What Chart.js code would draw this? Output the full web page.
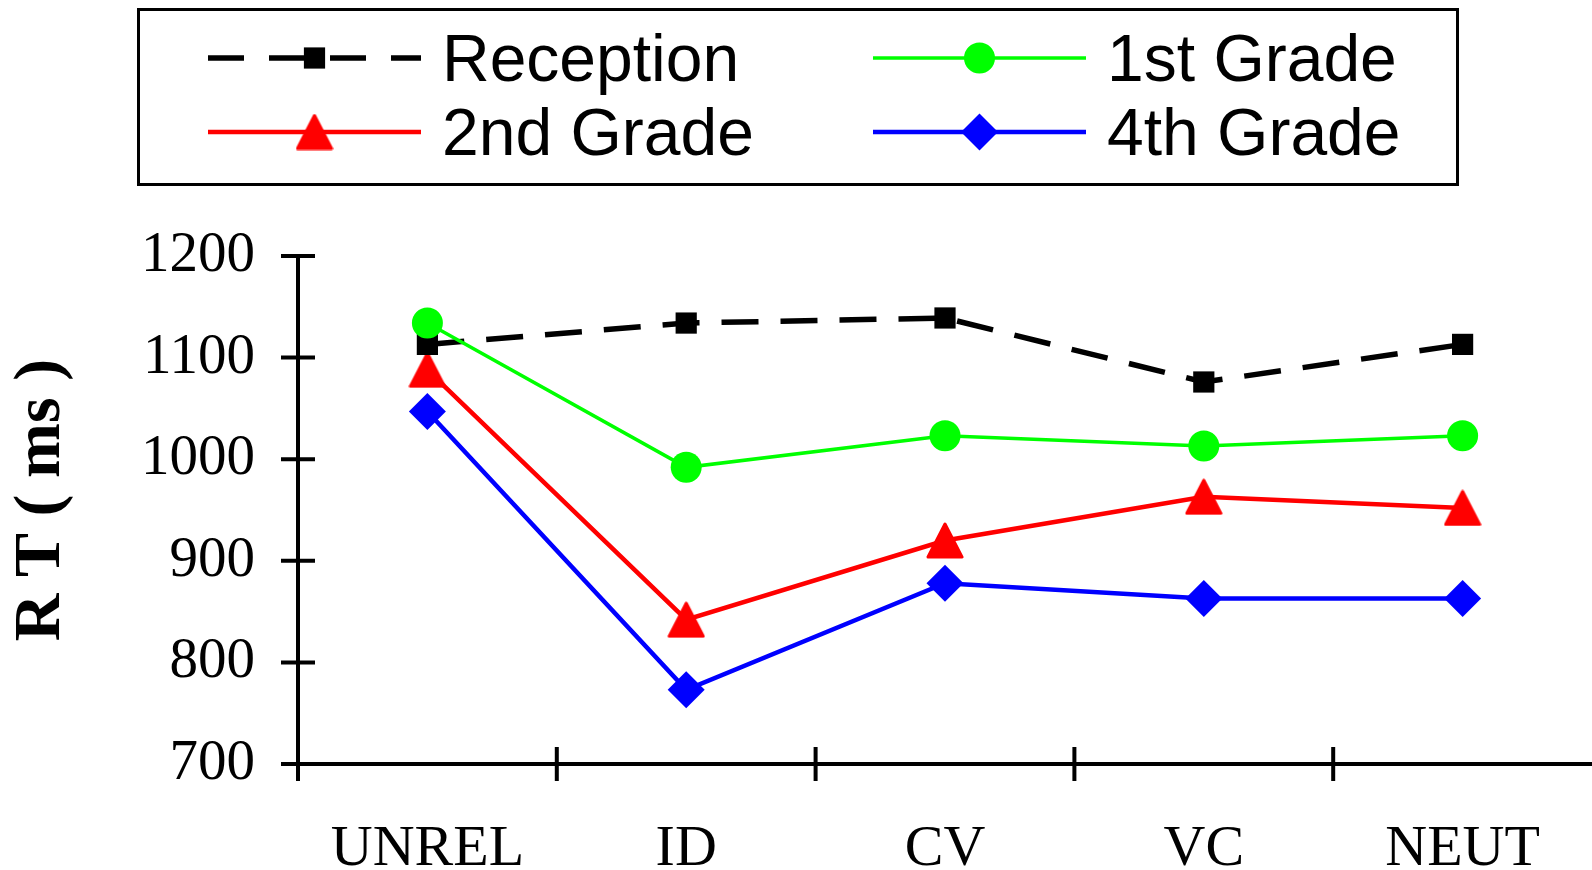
<!DOCTYPE html>
<html>
<head>
<meta charset="utf-8">
<title>RT by condition and grade</title>
<script src="https://cdn.jsdelivr.net/npm/chart.js@4.4.1/dist/chart.umd.min.js"></script>
<style>
  html, body { margin: 0; padding: 0; background: #ffffff; }
  #wrap { width: 1592px; height: 870px; position: relative; }
</style>
</head>
<body>
<div id="wrap"><canvas id="rtChart" width="1592" height="870"></canvas></div>
<script>
// Conditions along the x axis
const categories = ['UNREL', 'ID', 'CV', 'VC', 'NEUT'];
// Series names
const seriesNames = ['Reception', '1st Grade', '2nd Grade', '4th Grade'];
// Mean reaction times (ms)
const reception = [1113, 1134, 1139, 1076, 1113];
const grade1 = [1134, 992, 1023, 1013, 1023];
const grade2 = [1088, 842, 920, 963, 952];
const grade4 = [1047, 773, 878, 863, 863];
// Y axis tick values
const yTicks = [700, 800, 900, 1000, 1100, 1200];
const yTitle = 'R T ( ms )';

const SERIF = '"Liberation Serif", "Times New Roman", Times, serif';
const SANS = '"Liberation Sans", Arial, Helvetica, sans-serif';

// Upright triangle marker centred on its bounding box
function makeTriangle(w, h, color) {
  const c = document.createElement('canvas');
  c.width = w; c.height = h;
  const g = c.getContext('2d');
  const p = 2;
  g.fillStyle = color;
  g.strokeStyle = color;
  g.lineWidth = 3;
  g.lineJoin = 'round';
  g.beginPath();
  g.moveTo(w / 2, p);
  g.lineTo(w - p, h - p);
  g.lineTo(p, h - p);
  g.closePath();
  g.fill();
  g.stroke();
  return c;
}
const triangleRed = makeTriangle(38, 37, '#ff0000');

// Axis lines with tick marks that cross the axis, plus the rotated y title
const crossAxes = {
  id: 'crossAxes',
  beforeDatasetsDraw(chart) {
    const ctx = chart.ctx;
    const { left, right, bottom } = chart.chartArea;
    const xs = chart.scales.x, ys = chart.scales.y;
    const half = 17;
    ctx.save();
    ctx.strokeStyle = '#000';
    ctx.lineWidth = 4;
    ctx.lineCap = 'butt';
    ctx.beginPath();
    // y axis line
    ctx.moveTo(left, ys.getPixelForValue(yTicks[yTicks.length - 1]) - 2);
    ctx.lineTo(left, bottom + half);
    // x axis line
    ctx.moveTo(left - half, bottom);
    ctx.lineTo(right, bottom);
    // y ticks
    yTicks.forEach(v => {
      const y = ys.getPixelForValue(v);
      ctx.moveTo(left - half, y);
      ctx.lineTo(left + half, y);
    });
    // x ticks between categories
    const step = xs.getPixelForValue(1) - xs.getPixelForValue(0);
    for (let i = 1; i < categories.length; i++) {
      const x = xs.getPixelForValue(i) - step / 2;
      ctx.moveTo(x, bottom - half);
      ctx.lineTo(x, bottom + half);
    }
    ctx.stroke();

    // y axis title
    ctx.translate(42, 500);
    ctx.rotate(-Math.PI / 2);
    ctx.fillStyle = '#000';
    ctx.font = 'bold 66px ' + SERIF;
    ctx.textAlign = 'center';
    ctx.textBaseline = 'middle';
    ctx.fillText(yTitle, 0, 0);
    ctx.restore();
  }
};

// Boxed two-column legend with line + marker samples
const boxedLegend = {
  id: 'boxedLegend',
  afterDraw(chart) {
    const ctx = chart.ctx;
    ctx.save();
    ctx.strokeStyle = '#000';
    ctx.lineWidth = 3;
    ctx.strokeRect(138.5, 9.5, 1319, 175);
    const cols = [{ line: 208, text: 442 }, { line: 873, text: 1107 }];
    const rows = [{ y: 58, base: 81 }, { y: 132, base: 155 }];
    const lineLen = 213;
    chart.data.datasets.forEach((ds, i) => {
      const col = cols[i % 2], row = rows[Math.floor(i / 2)];
      ctx.save();
      ctx.strokeStyle = ds.borderColor;
      ctx.lineWidth = ds.borderWidth;
      ctx.setLineDash(ds.borderDash ? [36, 25] : []);
      ctx.beginPath();
      ctx.moveTo(col.line, row.y);
      ctx.lineTo(col.line + lineLen, row.y);
      ctx.stroke();
      ctx.setLineDash([]);
      ctx.fillStyle = ds.pointBackgroundColor;
      ctx.strokeStyle = ds.pointBackgroundColor;
      Chart.helpers.drawPoint(ctx, {
        pointStyle: ds.pointStyle,
        radius: ds.pointRadius,
        rotation: 0,
        borderWidth: 0
      }, col.line + lineLen / 2, row.y);
      ctx.restore();
      ctx.fillStyle = '#000';
      ctx.font = '66px ' + SANS;
      ctx.textBaseline = 'alphabetic';
      ctx.textAlign = 'left';
      ctx.fillText(ds.label, col.text, row.base);
    });
    ctx.restore();
  }
};

new Chart(document.getElementById('rtChart'), {
  type: 'line',
  data: {
    labels: categories,
    datasets: [
      {
        label: seriesNames[0], data: reception, order: 1,
        borderColor: '#000000', borderWidth: 5.5, borderDash: [37, 22],
        pointStyle: 'rect', pointRadius: 15, pointBackgroundColor: '#000000',
        pointBorderColor: '#000000', pointBorderWidth: 0
      },
      {
        label: seriesNames[1], data: grade1, order: 0,
        borderColor: '#00ff00', borderWidth: 3.5,
        pointStyle: 'circle', pointRadius: 15.5, pointBackgroundColor: '#00ff00',
        pointBorderColor: '#00ff00', pointBorderWidth: 0
      },
      {
        label: seriesNames[2], data: grade2, order: 2,
        borderColor: '#ff0000', borderWidth: 4.5,
        pointStyle: triangleRed, pointRadius: 19, pointBackgroundColor: '#ff0000',
        pointBorderColor: '#ff0000', pointBorderWidth: 0
      },
      {
        label: seriesNames[3], data: grade4, order: 3,
        borderColor: '#0000ff', borderWidth: 4.5,
        pointStyle: 'rectRot', pointRadius: 18.5, pointBackgroundColor: '#0000ff',
        pointBorderColor: '#0000ff', pointBorderWidth: 0
      }
    ]
  },
  options: {
    responsive: false,
    devicePixelRatio: 1,
    animation: false,
    layout: { autoPadding: false, padding: { top: 256, right: 0, left: 0, bottom: 0 } },
    plugins: {
      legend: { display: false },
      tooltip: { enabled: false }
    },
    elements: { line: { tension: 0, fill: false } },
    scales: {
      x: {
        type: 'category',
        offset: true,
        grid: { display: false, drawTicks: false, tickLength: 0 },
        border: { display: false },
        ticks: {
          color: '#000', padding: 51, maxRotation: 0, autoSkip: false,
          font: { family: SERIF, size: 58 }
        },
        afterFit(s) { s.height = 106; s.paddingLeft = 0; s.paddingRight = 0; }
      },
      y: {
        type: 'linear',
        min: 700, max: 1200,
        grid: { display: false, drawTicks: false, tickLength: 0 },
        border: { display: false },
        afterBuildTicks(s) { s.ticks = yTicks.map(v => ({ value: v })); },
        ticks: {
          color: '#000', padding: 43,
          font: { family: SERIF, size: 57 },
          callback: v => String(v)
        },
        afterFit(s) { s.width = 298; }
      }
    }
  },
  plugins: [crossAxes, boxedLegend]
});
</script>
</body>
</html>
